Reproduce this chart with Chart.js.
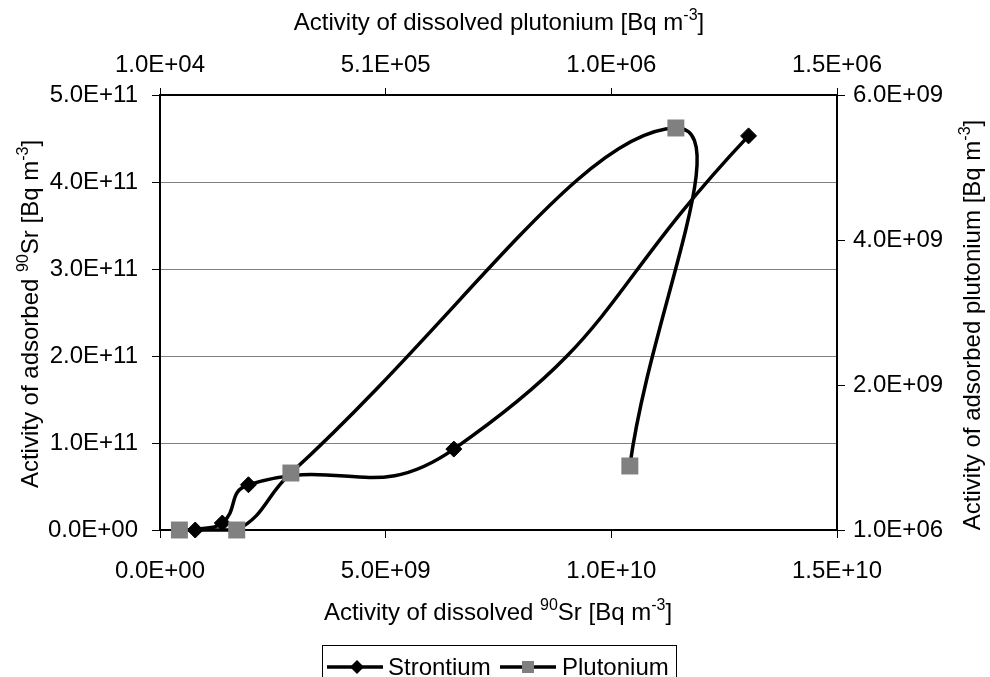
<!DOCTYPE html>
<html>
<head>
<meta charset="utf-8">
<script src="https://cdn.jsdelivr.net/npm/chart.js@4.4.0/dist/chart.umd.min.js"></script>
<style>
  html, body { margin: 0; padding: 0; background: #fff; }
</style>
</head>
<body>
<canvas id="myChart" width="990" height="677"></canvas>
<script>
// strontium: dissolved (bottom axis) vs adsorbed (left axis)
const srDissolved = [0.78e9, 1.38e9, 1.96e9, 6.51e9, 13.04e9];
const srAdsorbed = [0, 0.08e11, 0.52e11, 0.93e11, 4.53e11];

// plutonium: dissolved (top axis) vs adsorbed (right axis)
const puDissolved = [5.3e4, 1.8e5, 3.0e5, 1.153e6, 1.051e6];
const puAdsorbed = [1e6, 1e6, 7.87e8, 5.546e9, 8.84e8];

// tick values of the secondary axes (excel starts them at the minimum)
const topTicks = [1e4, 5.1e5, 1.01e6, 1.51e6];
const rightTicks = [1e6, 2.001e9, 4.001e9, 6.001e9];

const FONT = "Liberation Sans, Arial, sans-serif";
const SIZE = 24;

function sci(v) {
  let s = Number(v).toExponential(1).toUpperCase();
  let parts = s.split("E");
  let d = parts[1].slice(1);
  if (d.length < 2) d = "0" + d;
  return parts[0] + "E" + parts[1][0] + d;
}

function toPoints(xs, ys) {
  return xs.map((x, i) => ({ x: x, y: ys[i] }));
}

//draw text with superscript parts, centred at x,y
function drawRich(ctx, parts, x, y, rot) {
  let mainFont = SIZE + "px " + FONT;
  let supFont = Math.round(SIZE * 0.65) + "px " + FONT;
  ctx.save();
  ctx.translate(x, y);
  ctx.rotate(rot);
  let total = 0;
  for (let p of parts) {
    ctx.font = p.sup ? supFont : mainFont;
    total += ctx.measureText(p.t).width;
  }
  let cx = -total / 2;
  ctx.fillStyle = "#000";
  ctx.textAlign = "left";
  ctx.textBaseline = "alphabetic";
  for (let p of parts) {
    ctx.font = p.sup ? supFont : mainFont;
    let dy = p.sup ? SIZE * 0.35 - SIZE * 0.42 : SIZE * 0.35;
    ctx.fillText(p.t, cx, dy);
    cx += ctx.measureText(p.t).width;
  }
  ctx.restore();
}

const titlesPlugin = {
  id: "titles",
  afterDraw(chart) {
    const ctx = chart.ctx;
    drawRich(ctx, [{ t: "Activity of dissolved plutonium [Bq m" }, { t: "-3", sup: true }, { t: "]" }], 499, 22, 0);
    drawRich(ctx, [{ t: "Activity of dissolved " }, { t: "90", sup: true }, { t: "Sr [Bq m" }, { t: "-3", sup: true }, { t: "]" }], 498, 612, 0);
    drawRich(ctx, [{ t: "Activity of adsorbed " }, { t: "90", sup: true }, { t: "Sr [Bq m" }, { t: "-3", sup: true }, { t: "]" }], 30, 314, -Math.PI / 2);
    drawRich(ctx, [{ t: "Activity of adsorbed plutonium [Bq m" }, { t: "-3", sup: true }, { t: "]" }], 972, 325, -Math.PI / 2);

    // legend box at the bottom (cut by the picture edge)
    ctx.save();
    ctx.strokeStyle = "#000";
    ctx.lineWidth = 1;
    ctx.strokeRect(322.5, 645.5, 354, 60);
    let ly = 667;
    ctx.lineWidth = 3.5;
    ctx.beginPath();
    ctx.moveTo(327, ly);
    ctx.lineTo(383, ly);
    ctx.moveTo(500, ly);
    ctx.lineTo(556, ly);
    ctx.stroke();
    ctx.fillStyle = "#000";
    ctx.beginPath();
    ctx.moveTo(357, ly - 7);
    ctx.lineTo(364, ly);
    ctx.lineTo(357, ly + 7);
    ctx.lineTo(350, ly);
    ctx.closePath();
    ctx.fill();
    ctx.fillStyle = "#808080";
    ctx.fillRect(522, ly - 6, 12, 12);
    ctx.fillStyle = "#000";
    ctx.font = SIZE + "px " + FONT;
    ctx.textBaseline = "middle";
    ctx.fillText("Strontium", 388, ly + 1);
    ctx.fillText("Plutonium", 562, ly + 1);
    ctx.restore();
  },
};

const tickFont = { family: FONT, size: SIZE };

new Chart(document.getElementById("myChart"), {
  type: "scatter",
  data: {
    datasets: [
      {
        label: "Plutonium",
        data: toPoints(puDissolved, puAdsorbed),
        xAxisID: "x2",
        yAxisID: "y2",
        showLine: true,
        tension: 0.45,
        borderColor: "#000",
        borderWidth: 3.5,
        pointStyle: "rect",
        pointRadius: 12,
        pointBackgroundColor: "#808080",
        pointBorderColor: "#808080",
        pointBorderWidth: 0,
        clip: false,
        order: 0,
      },
      {
        label: "Strontium",
        data: toPoints(srDissolved, srAdsorbed),
        xAxisID: "x",
        yAxisID: "y",
        showLine: true,
        tension: 0.5,
        borderColor: "#000",
        borderWidth: 3.5,
        pointStyle: "rectRot",
        pointRadius: 8,
        pointBackgroundColor: "#000",
        pointBorderColor: "#000",
        pointBorderWidth: 1,
        clip: false,
        order: 1,
      },
    ],
  },
  options: {
    responsive: false,
    animation: false,
    events: [],
    layout: { padding: 0 },
    plugins: {
      legend: { display: false },
      tooltip: { enabled: false },
    },
    scales: {
      x: {
        type: "linear",
        position: "bottom",
        min: 0,
        max: 1.5e10,
        ticks: { stepSize: 5e9, callback: (v) => sci(v), font: tickFont, color: "#000", padding: 19, maxRotation: 0 },
        grid: { drawOnChartArea: false, tickLength: 8, tickColor: "#000", tickWidth: 1 },
        border: { color: "#000", width: 2 },
        afterFit: (s) => { s.height = 147; },
      },
      y: {
        type: "linear",
        position: "left",
        min: 0,
        max: 5e11,
        ticks: { stepSize: 1e11, callback: (v) => sci(v), font: tickFont, color: "#000", padding: 14 },
        grid: { color: "#808080", lineWidth: 1, tickLength: 8, tickColor: "#000" },
        border: { color: "#000", width: 2 },
        afterFit: (s) => { s.width = 160; },
      },
      x2: {
        type: "linear",
        position: "top",
        min: 1e4,
        max: 1.51e6,
        afterBuildTicks: (s) => { s.ticks = topTicks.map((v) => ({ value: v })); },
        ticks: { callback: (v) => sci(v), font: tickFont, color: "#000", padding: 8, maxRotation: 0 },
        grid: { drawOnChartArea: false, tickLength: 7, tickColor: "#000" },
        border: { color: "#000", width: 2 },
        afterFit: (s) => { s.height = 95; },
      },
      y2: {
        type: "linear",
        position: "right",
        min: 1e6,
        max: 6.001e9,
        afterBuildTicks: (s) => { s.ticks = rightTicks.map((v) => ({ value: v })); },
        ticks: { callback: (v) => sci(v), font: tickFont, color: "#000", padding: 8 },
        grid: { drawOnChartArea: false, tickLength: 8, tickColor: "#000" },
        border: { color: "#000", width: 2 },
        afterFit: (s) => { s.width = 153; },
      },
    },
  },
  plugins: [titlesPlugin],
});
</script>
</body>
</html>
